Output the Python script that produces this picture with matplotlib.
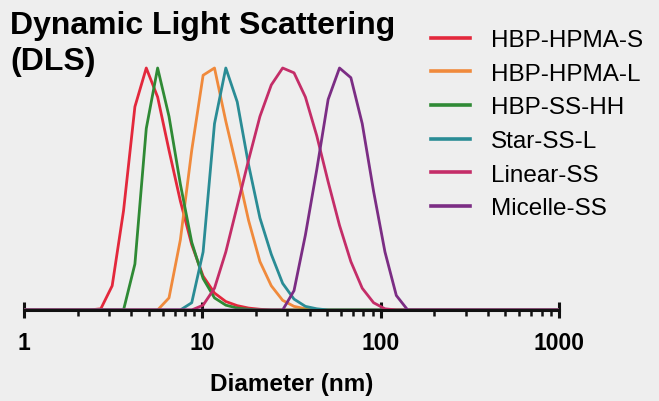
import matplotlib
matplotlib.use("Agg")
import matplotlib.pyplot as plt
from matplotlib.ticker import LogLocator, FixedLocator, NullFormatter

# Size bins (nm)
sizes = [0.9649, 1.117, 1.294, 1.499, 1.736, 2.01, 2.328, 2.696, 3.122, 3.615,
         4.187, 4.849, 5.615, 6.503, 7.531, 8.721, 10.1, 11.7, 13.54, 15.69,
         18.17, 21.04, 24.36, 28.21, 32.67, 37.84, 43.82, 50.75, 58.77, 68.06,
         78.82, 91.28, 105.7, 122.4, 141.8, 164.2, 190.1, 220.2, 255.0, 295.3,
         342.0, 396.1, 458.7, 531.2, 615.1, 712.4, 825.0, 955.4, 1106]

hbp_hpma_s = [0, 0, 0, 0, 0, 0, 0, 0.5, 10, 41,
              84, 100, 88, 66, 45, 27, 14, 7, 3.5, 1.8,
              0.8, 0.3, 0, 0, 0, 0, 0, 0, 0, 0,
              0, 0, 0, 0, 0, 0, 0, 0, 0, 0,
              0, 0, 0, 0, 0, 0, 0, 0, 0]
hbp_hpma_l = [0, 0, 0, 0, 0, 0, 0, 0, 0, 0,
              0, 0, 0, 5, 29, 66, 97, 100, 78, 58,
              37, 20, 10, 4, 1.5, 0.5, 0, 0, 0, 0,
              0, 0, 0, 0, 0, 0, 0, 0, 0, 0,
              0, 0, 0, 0, 0, 0, 0, 0, 0]
hbp_ss_hh = [0, 0, 0, 0, 0, 0, 0, 0, 0, 0,
             19, 75, 100, 80, 52, 28, 13, 5, 2, 0.8,
             0.3, 0, 0, 0, 0, 0, 0, 0, 0, 0,
             0, 0, 0, 0, 0, 0, 0, 0, 0, 0,
             0, 0, 0, 0, 0, 0, 0, 0, 0]
star_ss_l = [0, 0, 0, 0, 0, 0, 0, 0, 0, 0,
             0, 0, 0, 0, 0, 3, 24, 77, 100, 86,
             60, 38, 23, 11, 4.5, 1.5, 0.5, 0, 0, 0,
             0, 0, 0, 0, 0, 0, 0, 0, 0, 0,
             0, 0, 0, 0, 0, 0, 0, 0, 0]
linear_ss = [0, 0, 0, 0, 0, 0, 0, 0, 0, 0,
             0, 0, 0, 0, 0, 0, 2, 9, 24, 43,
             62, 80, 93, 100, 98, 88, 72, 53, 35, 20,
             9, 3, 0.5, 0, 0, 0, 0, 0, 0, 0,
             0, 0, 0, 0, 0, 0, 0, 0, 0]
micelle_ss = [0, 0, 0, 0, 0, 0, 0, 0, 0, 0,
              0, 0, 0, 0, 0, 0, 0, 0, 0, 0,
              0, 0, 0, 0, 8, 31, 58, 87, 100, 96,
              77, 49, 24, 6, 0, 0, 0, 0, 0, 0,
              0, 0, 0, 0, 0, 0, 0, 0, 0]

labels = ["HBP-HPMA-S", "HBP-HPMA-L", "HBP-SS-HH", "Star-SS-L", "Linear-SS", "Micelle-SS"]
series = [hbp_hpma_s, hbp_hpma_l, hbp_ss_hh, star_ss_l, linear_ss, micelle_ss]
colors = ["#e3283c", "#f08a3c", "#2f8a35", "#2a8c95", "#c42d68", "#7b2d84"]

tick_vals = [1, 10, 100, 1000]
tick_labels = ["1", "10", "100", "1000"]

plt.rcParams['font.family'] = ['Liberation Sans', 'DejaVu Sans']
bg = "#eeeeee"
fig = plt.figure(figsize=(6.59, 4.02), dpi=100, facecolor=bg)
W, H = 659, 402
ax_left, ax_right = 24 / W, 559 / W
ax_bottom = (H - 311) / H
ax_top = (H - 60) / H
ax = fig.add_axes([ax_left, ax_bottom, ax_right - ax_left, ax_top - ax_bottom])
ax.set_facecolor(bg)

for y, c, lab in zip(series, colors, labels):
    ax.plot(sizes, y, color=c, lw=2.0, label=lab, clip_on=True)

ax.set_xscale("log")
ax.set_xlim(1, 1000)
ax.set_ylim(0, 100 * 251 / 242)
for s in ["left", "right", "top"]:
    ax.spines[s].set_visible(False)
ax.spines["bottom"].set_linewidth(2.2)
ax.spines["bottom"].set_color("#111111")
ax.set_yticks([])
ax.xaxis.set_major_locator(FixedLocator(tick_vals))
ax.set_xticklabels(tick_labels, fontsize=16.5, fontweight="bold")
ax.xaxis.set_minor_locator(LogLocator(base=10, subs=range(2, 10)))
ax.xaxis.set_minor_formatter(NullFormatter())
ax.tick_params(axis="x", which="major", direction="inout", length=12, width=2.2, pad=9, color="#111111")
ax.tick_params(axis="x", which="minor", direction="out", length=4, width=1.8, color="#111111")
ax.set_xlabel("Diameter (nm)", fontsize=17.5, fontweight="bold", labelpad=13)

fig.text(10 / W, 1 - 11 / H, "Dynamic Light Scattering\n(DLS)", fontsize=23,
         fontweight="bold", va="top", ha="left", linespacing=1.27)

handles, labs = ax.get_legend_handles_labels()
leg = fig.legend(handles, labs, loc="upper left", bbox_to_anchor=(431 / W, 1 - 30 / H),
                 frameon=False, fontsize=17.5, handlelength=1.6, handletextpad=0.85,
                 labelspacing=0.48, borderpad=0, borderaxespad=0)
for line in leg.get_lines():
    line.set_linewidth(2.6)

fig.savefig("out.png", dpi=100, facecolor=bg)
